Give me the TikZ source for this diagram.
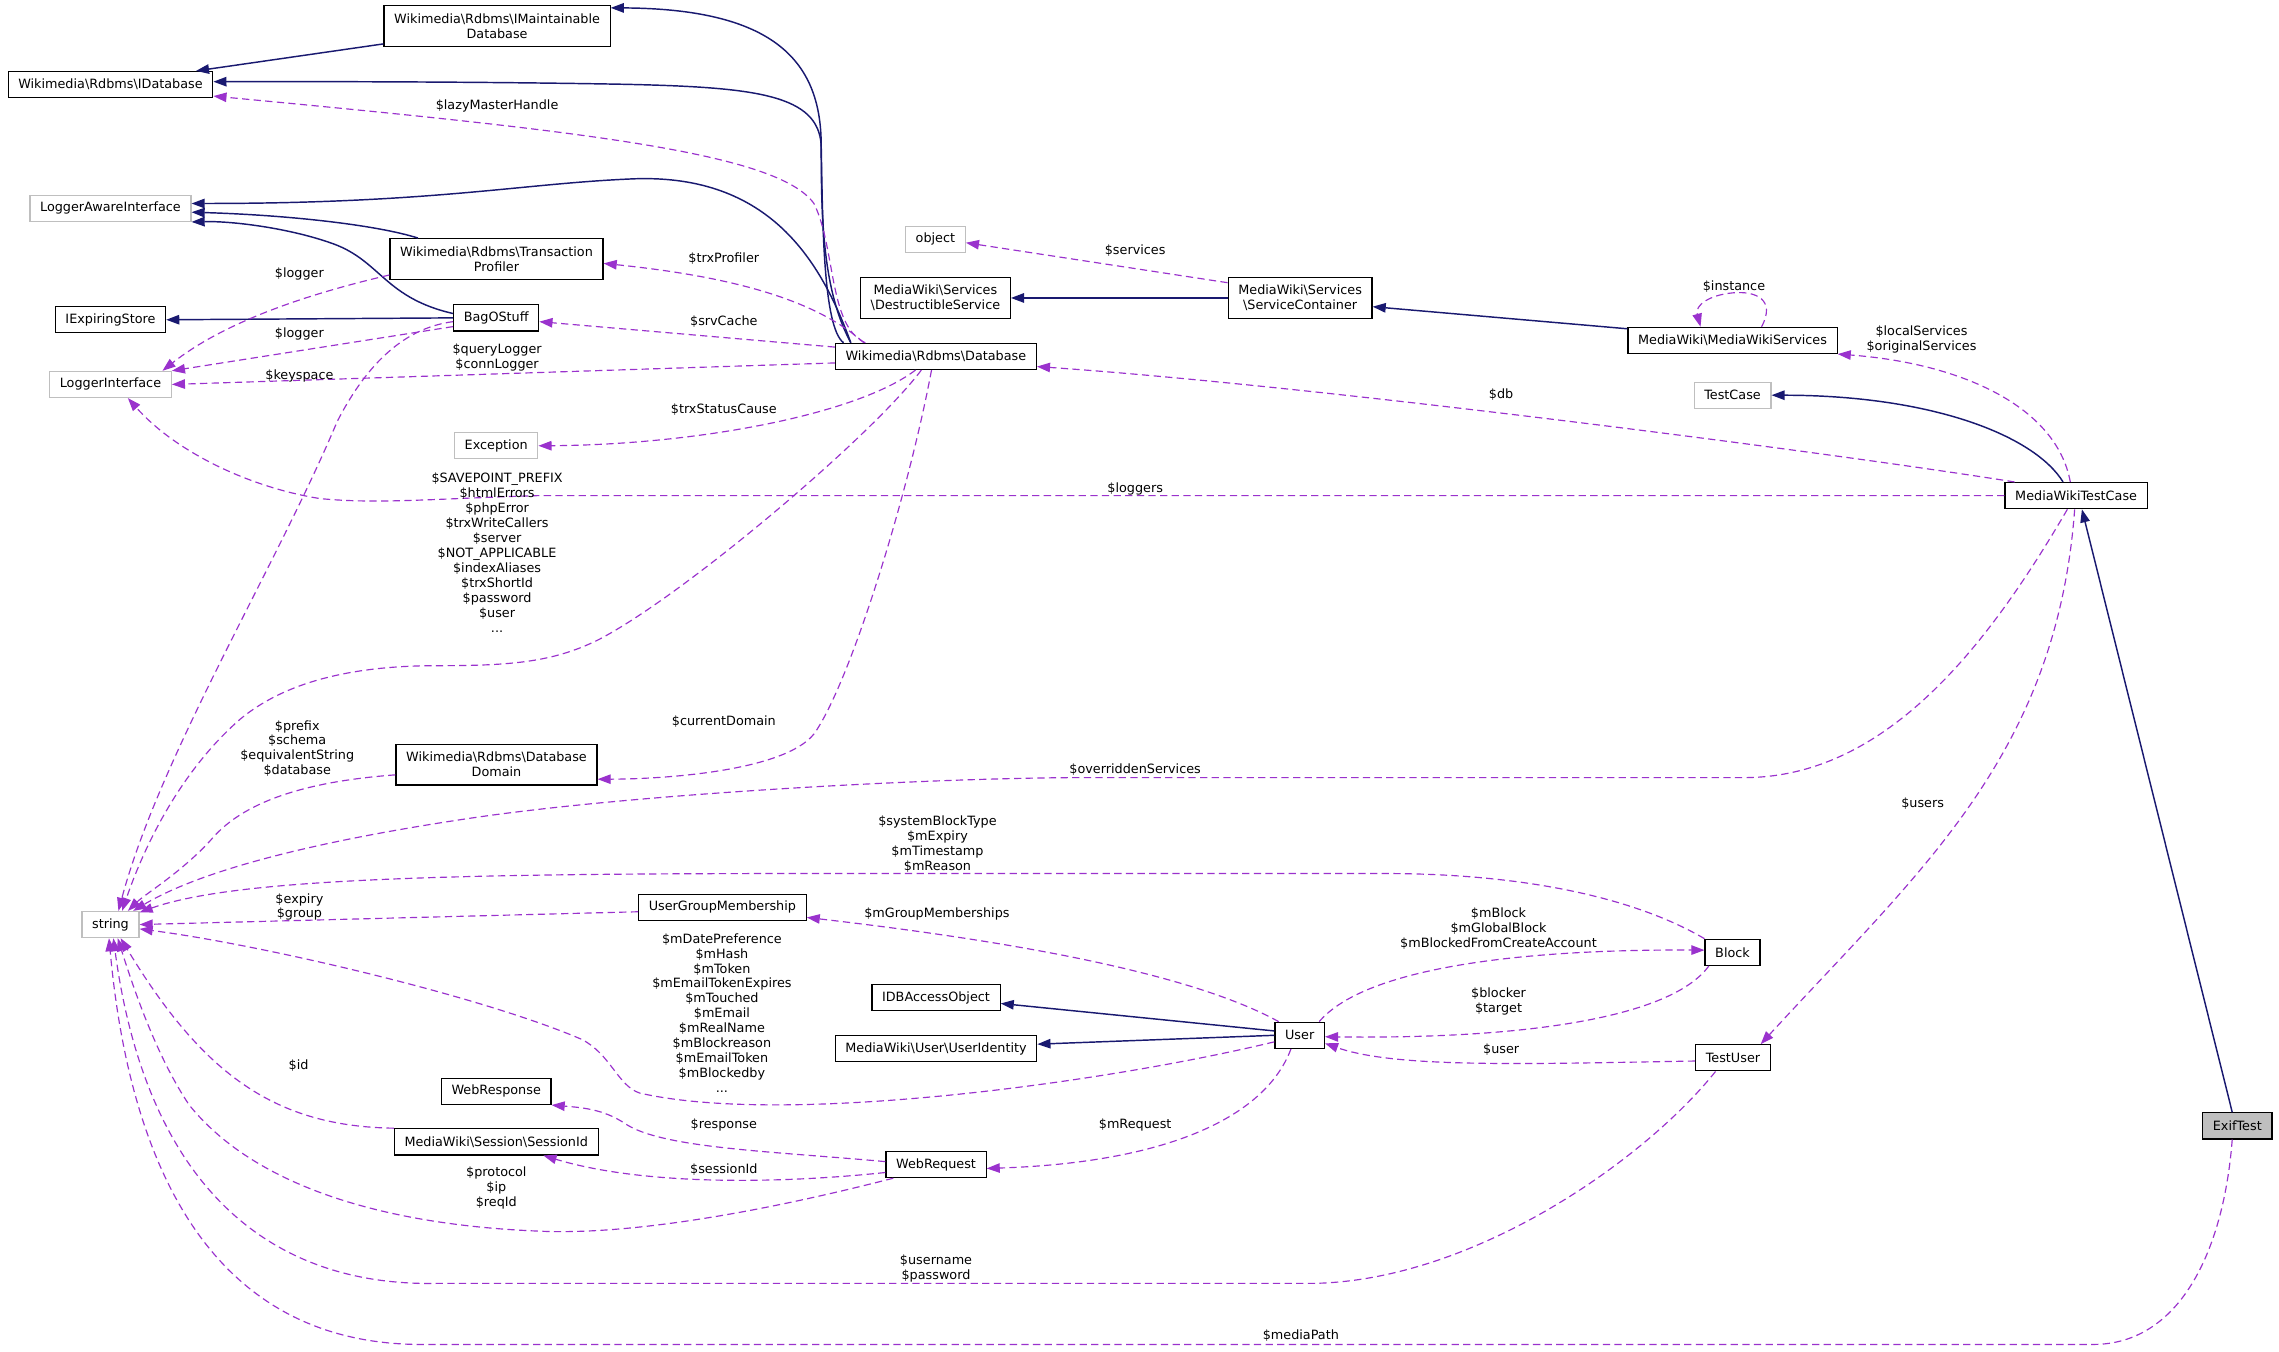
\documentclass[tikz,border=0pt]{standalone}
\usepackage{fontspec}
\setmainfont{DejaVu Sans}
\usepackage{xcolor}
\usepackage{tikz}
\definecolor{edgeNavy}{HTML}{191970}
\definecolor{edgeOrchid}{HTML}{9A32CD}
\definecolor{boxGrey}{HTML}{BFBFBF}
\usetikzlibrary{arrows.meta}

\begin{document}
\begin{tikzpicture}[
  x=1pt, y=-1pt,
  font=\fontsize{8.8}{10.3}\selectfont,
  cls/.style={draw=black, line width=0.8pt, fill=white, inner xsep=7pt, inner ysep=2pt, minimum height=18pt, align=center},
  cls2/.style={cls, minimum height=28pt},
  ext/.style={cls, draw=boxGrey},
  cur/.style={cls, fill=boxGrey},
  inherit/.style={-{Triangle[length=9pt,width=6.5pt]}, edgeNavy, line width=1pt},
  usage/.style={-{Triangle[length=9pt,width=6.5pt]}, edgeOrchid, line width=0.8pt, dash pattern=on 5pt off 3pt},
  lbl/.style={align=center, inner sep=0pt}
]

\fill[white] (0,0) rectangle (1568,930);
\useasboundingbox (0,0) rectangle (1568,930);

% Classes
\node[cls2] (imaint) at (342,17.8) {Wikimedia\textbackslash Rdbms\textbackslash IMaintainable\\Database};
\node[cls] (idb) at (76,58.2) {Wikimedia\textbackslash Rdbms\textbackslash IDatabase};
\node[ext] (lai) at (76,143.3) {LoggerAwareInterface};
\node[cls2] (tprof) at (341.6,178.2) {Wikimedia\textbackslash Rdbms\textbackslash Transaction\\Profiler};
\node[cls] (ies) at (76,220) {IExpiringStore};
\node[cls] (bag) at (341.4,218.7) {BagOStuff};
\node[ext] (li) at (76,264.5) {LoggerInterface};
\node[cls] (db) at (643.9,245.2) {Wikimedia\textbackslash Rdbms\textbackslash Database};
\node[ext] (exc) at (341.4,306.7) {Exception};
\node[ext] (obj) at (643.6,164.6) {object};
\node[cls2] (dsvc) at (643.6,205) {MediaWiki\textbackslash Services\\\textbackslash DestructibleService};
\node[cls2] (svc) at (894.5,205) {MediaWiki\textbackslash Services\\\textbackslash ServiceContainer};
\node[cls] (mws) at (1192,234.2) {MediaWiki\textbackslash MediaWikiServices};
\node[ext] (tcase) at (1192,271.9) {TestCase};
\node[cls] (mwtc) at (1428.4,341) {MediaWikiTestCase};
\node[cls2] (dbdom) at (341.6,526.1) {Wikimedia\textbackslash Rdbms\textbackslash Database\\Domain};
\node[ext] (str) at (76,636.1) {string};
\node[cls] (ugm) at (497,624.3) {UserGroupMembership};
\node[cls] (dbao) at (644,686.4) {IDBAccessObject};
\node[cls] (uid) at (644,721.4) {MediaWiki\textbackslash User\textbackslash UserIdentity};
\node[cls] (user) at (894.2,712.3) {User};
\node[cls] (block) at (1192,655.2) {Block};
\node[cls] (tuser) at (1192.3,727.8) {TestUser};
\node[cls] (wresp) at (341.4,750.9) {WebResponse};
\node[cls] (sid) at (341.4,785.6) {MediaWiki\textbackslash Session\textbackslash SessionId};
\node[cls] (wreq) at (644,801.2) {WebRequest};
\node[cur] (exif) at (1539.3,774.6) {ExifTest};

% Inheritance
\draw[inherit] ([yshift=2pt]imaint.south west) -- ([xshift=-12pt]idb.north east);
\draw[inherit] ([xshift=11pt]db.north west) .. controls (566,200) and (565,150) .. (565,100) .. controls (565,40) and (530,6) .. ([yshift=-2pt]imaint.north east);
\draw[inherit] ([xshift=6pt]db.north west) .. controls (566,225) and (566,150) .. (565,100) .. controls (563,65) and (520,60) .. (430,58) .. controls (350,56.5) and (250,56) .. ([yshift=2pt]idb.east);
\draw[inherit] ([xshift=11pt]db.north west) .. controls (565,180) and (530,120) .. (437,123) .. controls (360,126) and (300,140) .. ([yshift=3.3pt]lai.east);
\draw[inherit] ([xshift=-54pt]tprof.north) .. controls (260,155) and (200,148) .. ([yshift=-2.7pt]lai.east);
\draw[inherit] ([yshift=3pt]bag.west) .. controls (265,205) and (262,180) .. (230,168) .. controls (200,157) and (160,152) .. (lai.south east);
\draw[inherit] (bag.west) -- (ies.east);
\draw[inherit] (svc.west) -- (dsvc.east);
\draw[inherit] ([yshift=-1.4pt]mws.north west) -- ([yshift=-6pt]svc.east);
\draw[inherit] ([xshift=-9pt]mwtc.north) .. controls (1400,300) and (1330,272) .. (tcase.east);
\draw[inherit] ([xshift=-3.5pt]exif.north) -- ([xshift=4pt]mwtc.south);
\draw[inherit] ([yshift=3pt]user.west) -- ([yshift=-4pt]dbao.east);
\draw[inherit] (user.west) -- ([yshift=3pt]uid.east);

% Database members
\draw[usage] ([xshift=21pt]db.north west) .. controls (570,225) and (575,170) .. (560,140) .. controls (535,105) and (400,90) .. ([yshift=1.5pt]idb.south east);
\draw[usage] ([xshift=20pt]db.north west) .. controls (560,205) and (500,190) .. ([yshift=-3pt]tprof.east);
\draw[usage] ([yshift=6.4pt]db.west) -- ([yshift=-2.6pt]bag.east);
\draw[usage] ([yshift=-4.5pt]db.west) -- (li.east);
\draw[usage] ([xshift=-14pt]db.south) .. controls (590,285) and (480,306) .. (exc.east);
\draw[usage] ([xshift=-10pt]db.south) .. controls (600,300) and (470,410) .. (412,440) .. controls (380,456) and (350,458) .. (300,458) .. controls (240,458) and (195,470) .. (165,495) .. controls (125,530) and (100,580) .. ([xshift=8pt]str.north);
\draw[usage] ([xshift=-3pt]db.south) .. controls (625,340) and (585,470) .. (560,505) .. controls (540,530) and (460,536) .. ([yshift=-10pt]dbdom.east);

% Logger and cache members
\draw[usage] ([yshift=-11pt]tprof.west) .. controls (200,205) and (150,225) .. ([xshift=-6.5pt]li.north east);
\draw[usage] ([yshift=-6pt]bag.west) -- (li.north east);
\draw[usage] ([yshift=-2.6pt]bag.west) .. controls (275,226) and (250,255) .. (232,290) .. controls (190,390) and (110,520) .. ([xshift=5.5pt]str.north);
\draw[usage] ([yshift=-7pt]dbdom.west) .. controls (220,537) and (170,548) .. (145,578) .. controls (125,600) and (100,615) .. ([xshift=12pt]str.north);

% Services
\draw[usage] ([yshift=10.5pt]svc.west) -- ([yshift=-2.4pt]obj.east);
\draw[usage] ([xshift=20pt]mws.north) .. controls (1222,206) and (1208,200) .. (1192,201.5) .. controls (1176,203) and (1166,210) .. ([xshift=-22pt]mws.north);

% Test case members
\draw[usage] (mwtc.west) -- (370,341) .. controls (300,343) and (260,347) .. (220,343) .. controls (170,335) and (120,310) .. ([xshift=12pt]li.south);
\draw[usage] ([xshift=7pt]mwtc.north west) .. controls (1250,310) and (900,265) .. ([yshift=-7pt]db.east);
\draw[usage] ([xshift=-4pt]mwtc.north) .. controls (1415,280) and (1350,250) .. (mws.south east);
\draw[usage] ([xshift=-6pt]mwtc.south) .. controls (1370,440) and (1300,535) .. (1200,535) -- (745,535) .. controls (650,535) and (450,545) .. (330,562) .. controls (220,578) and (140,598) .. ([xshift=-4.4pt]str.north east);
\draw[usage] ([xshift=-1pt]mwtc.south) .. controls (1415,520) and (1320,600) .. ([xshift=-7pt]tuser.north east);

% User members
\draw[usage] (block.north west) .. controls (1120,615) and (1040,601) .. (953,601) -- (550,601) .. controls (300,601) and (160,605) .. ([yshift=-1pt]str.north east);
\draw[usage] ([yshift=-3pt]ugm.west) -- (str.east);
\draw[usage] ([xshift=3pt]user.north west) .. controls (820,670) and (700,648) .. ([yshift=2.5pt]ugm.south east);
\draw[usage] ([xshift=-4pt]user.north east) .. controls (940,665) and (1050,653) .. ([yshift=1.5pt]block.west);
\draw[usage] ([xshift=3pt]block.south west) .. controls (1150,700) and (1050,715) .. ([yshift=-1pt]user.east);
\draw[usage] ([yshift=-2.2pt]tuser.west) .. controls (1050,732) and (960,735) .. ([yshift=-5.5pt]user.east);
\draw[usage] ([yshift=-4.5pt]user.west) .. controls (760,745) and (540,775) .. (440,752) .. controls (425,747) and (420,725) .. (400,715) .. controls (330,685) and (180,650) .. ([yshift=-3pt]str.east);
\draw[usage] ([xshift=-6pt]user.south) .. controls (870,770) and (800,800) .. ([yshift=-2.7pt]wreq.east);

% Request members
\draw[usage] ([yshift=2pt]wreq.west) .. controls (530,792) and (455,790) .. (430,773) .. controls (415,763) and (400,762) .. (wresp.south east);
\draw[usage] ([yshift=-5.5pt]wreq.west) .. controls (530,815) and (440,815) .. ([xshift=-38pt]sid.south east);
\draw[usage] ([xshift=5.5pt]wreq.south west) .. controls (520,835) and (430,850) .. (370,847) .. controls (250,842) and (170,810) .. (130,760) .. controls (110,730) and (95,690) .. ([xshift=5pt]str.south);
\draw[usage] (sid.north west) .. controls (190,775) and (140,740) .. ([xshift=7pt]str.south);
\draw[usage] ([xshift=-12pt]tuser.south) .. controls (1130,800) and (1010,883) .. (900,883) -- (300,883) .. controls (180,885) and (100,810) .. ([xshift=2pt]str.south);
\draw[usage] ([xshift=-3.5pt]exif.south) .. controls (1530,860) and (1500,925) .. (1440,925) -- (290,925) .. controls (150,925) and (90,810) .. ([xshift=-1pt]str.south);

% Edge labels
\node[lbl] at (342,72.7) {\$lazyMasterHandle};
\node[lbl] at (498,177.7) {\$trxProfiler};
\node[lbl] at (498,221) {\$srvCache};
\node[lbl] at (342,246) {\$queryLogger\\\$connLogger};
\node[lbl] at (206,188.6) {\$logger};
\node[lbl] at (206,230) {\$logger};
\node[lbl] at (206,259) {\$keyspace};
\node[lbl] at (498,282) {\$trxStatusCause};
\node[lbl] at (342,380) {\$SAVEPOINT\_PREFIX\\\$htmlErrors\\\$phpError\\\$trxWriteCallers\\\$server\\\$NOT\_APPLICABLE\\\$indexAliases\\\$trxShortId\\\$password\\\$user\\...};
\node[lbl] at (498,496.5) {\$currentDomain};
\node[lbl] at (204.5,515) {\$prefix\\\$schema\\\$equivalentString\\\$database};
\node[lbl] at (781,336.7) {\$loggers};
\node[lbl] at (1032.8,271.3) {\$db};
\node[lbl] at (1322,233.7) {\$localServices\\\$originalServices};
\node[lbl] at (1193,197) {\$instance};
\node[lbl] at (781,172.7) {\$services};
\node[lbl] at (781,529.8) {\$overriddenServices};
\node[lbl] at (1322.8,552.7) {\$users};
\node[lbl] at (645,580.5) {\$systemBlockType\\\$mExpiry\\\$mTimestamp\\\$mReason};
\node[lbl] at (206,624) {\$expiry\\\$group};
\node[lbl] at (644.6,628.9) {\$mGroupMemberships};
\node[lbl] at (1031,638.6) {\$mBlock\\\$mGlobalBlock\\\$mBlockedFromCreateAccount};
\node[lbl] at (1031,689) {\$blocker\\\$target};
\node[lbl] at (1032.8,722) {\$user};
\node[lbl] at (496.7,697) {\$mDatePreference\\\$mHash\\\$mToken\\\$mEmailTokenExpires\\\$mTouched\\\$mEmail\\\$mRealName\\\$mBlockreason\\\$mEmailToken\\\$mBlockedby\\...};
\node[lbl] at (781,774) {\$mRequest};
\node[lbl] at (498,774) {\$response};
\node[lbl] at (498,804.6) {\$sessionId};
\node[lbl] at (341.5,817.5) {\$protocol\\\$ip\\\$reqId};
\node[lbl] at (205.4,733) {\$id};
\node[lbl] at (644,873) {\$username\\\$password};
\node[lbl] at (895,919) {\$mediaPath};

\end{tikzpicture}
\end{document}
